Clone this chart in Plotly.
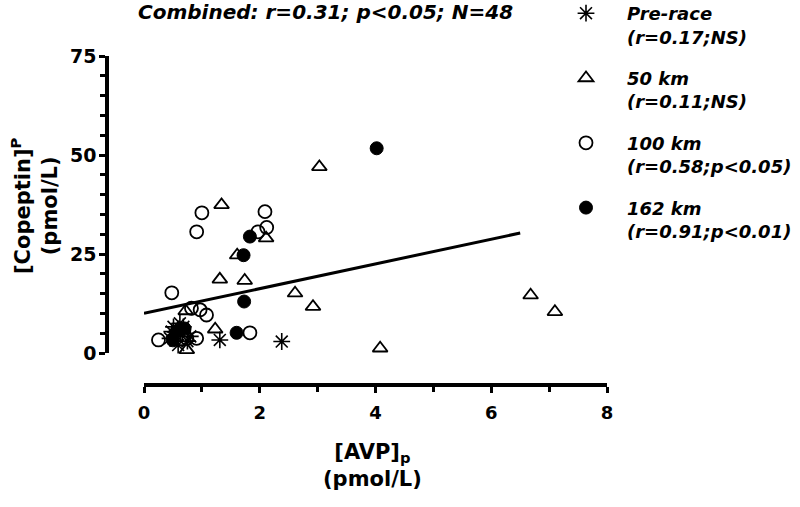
import plotly.graph_objects as go

# ---- data ----
pre_x = [0.51, 0.68, 0.45, 0.59, 0.62, 0.55, 0.75, 0.48, 1.31, 2.38, 0.66, 0.80]
pre_y = [6.6, 6.6, 3.7, 2.0, 7.5, 4.6, 3.0, 5.4, 3.3, 2.9, 5.0, 4.2]

km50_x = [3.03, 1.34, 1.61, 2.11, 1.31, 1.74, 2.61, 2.92, 4.08, 6.68, 7.10, 1.23, 0.74, 0.72]
km50_y = [47.0, 37.4, 24.7, 29.0, 18.6, 18.3, 15.1, 11.7, 1.2, 14.6, 10.4, 6.0, 0.8, 10.6]

km100_x = [1.00, 0.91, 2.09, 2.12, 1.97, 0.48, 0.97, 1.08, 0.25, 0.91, 1.83, 0.82, 0.74]
km100_y = [35.4, 30.6, 35.7, 31.7, 30.6, 15.2, 10.9, 9.6, 3.3, 3.7, 5.1, 11.3, 3.7]

km162_x = [4.02, 1.83, 1.72, 1.73, 1.60, 0.50, 0.60, 0.70]
km162_y = [51.7, 29.4, 24.7, 13.0, 5.1, 3.2, 5.6, 6.2]

fit_x = [0.0, 6.5]
fit_y = [10.0, 30.3]

legend_names = [
    "<b><i>Pre-race</i></b><br><b><i>(r=0.17;NS)</i></b>",
    "<b><i>50 km</i></b><br><b><i>(r=0.11;NS)</i></b>",
    "<b><i>100 km</i></b><br><b><i>(r=0.58;p<0.05)</i></b>",
    "<b><i>162 km</i></b><br><b><i>(r=0.91;p<0.01)</i></b>",
]
title_text = "<b><i>Combined: r=0.31; p<0.05; N=48</i></b>"
x_ticks = [0, 2, 4, 6, 8]
y_ticks = [0, 25, 50, 75]

W, H = 800, 507
FONT = "DejaVu Sans, Liberation Sans, Arial, sans-serif"


def px(x):
    return x / W


def py(y):
    return 1 - y / H


fig = go.Figure()

fig.add_trace(go.Scatter(x=fit_x, y=fit_y, mode="lines",
                         line=dict(color="black", width=3),
                         showlegend=False, hoverinfo="skip"))

series = [
    (pre_x, pre_y, "asterisk-open", dict(color="black", size=14, line=dict(color="black", width=1.6))),
    (km50_x, km50_y, "triangle-up-open", dict(color="black", size=13, line=dict(color="black", width=1.8))),
    (km100_x, km100_y, "circle-open", dict(color="black", size=13, line=dict(color="black", width=1.8))),
    (km162_x, km162_y, "circle", dict(color="black", size=13, line=dict(color="black", width=1))),
]
for i, (xs, ys, sym, mk) in enumerate(series):
    fig.add_trace(go.Scatter(x=xs, y=ys, mode="markers", name=legend_names[i],
                             marker=dict(symbol=sym, **mk),
                             legendgroup=f"g{i}", cliponaxis=False))

x0, x1 = 144, 607
y0, y1 = 353, 56
fig.update_layout(
    width=W, height=H,
    margin=dict(l=0, r=0, t=0, b=0, autoexpand=False),
    paper_bgcolor="white", plot_bgcolor="white",
    font=dict(family=FONT, color="black"),
    showlegend=True,
    legend=dict(x=px(545), y=py(-5), xanchor="left", yanchor="top",
                font=dict(family=FONT, size=18, color="black"),
                tracegroupgap=15, itemwidth=72, valign="top",
                maxheight=480, bgcolor="rgba(0,0,0,0)"),
    xaxis=dict(domain=[px(x0), px(x1)], range=[0, 8], anchor="free",
               position=py(385), showgrid=False, zeroline=False,
               showline=True, linecolor="black", linewidth=3.5,
               ticks="outside", ticklen=6, tickwidth=3, tickcolor="black",
               tickvals=x_ticks, ticktext=[f"<b>{v}</b>" for v in x_ticks],
               tickfont=dict(size=18, family=FONT), ticklabelstandoff=5,
               minor=dict(dtick=1, tick0=0, ticks="outside", ticklen=5,
                          tickwidth=2.5, tickcolor="black", showgrid=False),
               automargin=False),
    yaxis=dict(domain=[py(y0), py(y1)], range=[0, 75], anchor="free",
               position=px(107), showgrid=False, zeroline=False,
               showline=True, linecolor="black", linewidth=3.5,
               ticks="outside", ticklen=6, tickwidth=3, tickcolor="black",
               tickvals=y_ticks, ticktext=[f"<b>{v}</b>" for v in y_ticks],
               tickfont=dict(size=19, family=FONT), ticklabelstandoff=-1,
               minor=dict(dtick=5, tick0=0, ticks="outside", ticklen=5,
                          tickwidth=2.5, tickcolor="black", showgrid=False),
               automargin=False),
)

fig.add_annotation(text=title_text, xref="paper", yref="paper",
                   x=px(325), y=py(12), xanchor="center", yanchor="middle",
                   showarrow=False,
                   font=dict(size=20, family=FONT, color="black"))
fig.add_annotation(text="<b>[Copeptin]<sup>P</sup></b><br><b>(pmol/L)</b>",
                   xref="paper", yref="paper", x=px(34), y=py(206),
                   xanchor="center", yanchor="middle",
                   textangle=-90, showarrow=False,
                   font=dict(size=21, family=FONT, color="black"))
fig.add_annotation(text="<b>[AVP]<sub>p</sub></b><br><b>(pmol/L)</b>",
                   xref="paper", yref="paper", x=px(372), y=py(465),
                   xanchor="center", yanchor="middle",
                   showarrow=False,
                   font=dict(size=21, family=FONT, color="black"))

fig.write_html("out.html", config={"displayModeBar": False},
               post_script="document.body.style.margin='0';document.body.style.overflow='hidden';")
